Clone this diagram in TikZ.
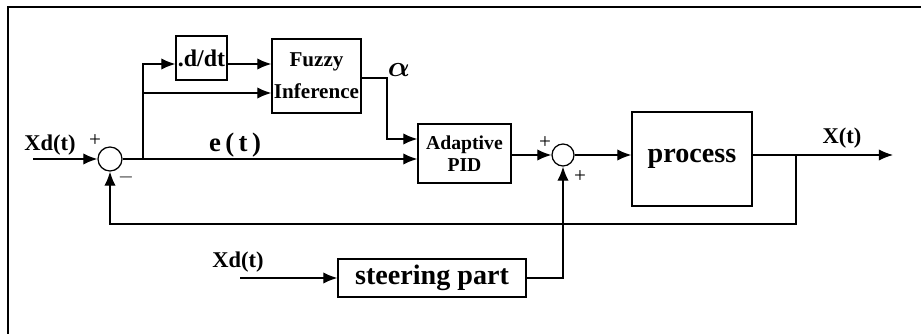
\documentclass[tikz,border=0pt]{standalone}
\usepackage{amsmath}
\usepackage{fontspec}
\setmainfont{Liberation Serif}
\usetikzlibrary{arrows.meta,positioning,calc}

\begin{document}
\begin{tikzpicture}[x=0.025cm, y=-0.025cm, >={Latex[length=10pt,width=8pt]}, line width=0.9pt,
  blk/.style={draw, inner sep=0pt, align=center},
  sumc/.style={draw, circle, inner sep=0pt, minimum size=0.6cm},
  lbl/.style={font=\bfseries\fontsize{16}{16}\selectfont, inner sep=0pt},
  sgn/.style={font=\fontsize{15}{15}\selectfont, inner sep=0pt}]

  \useasboundingbox (0,0) rectangle (921,334);
  % frame
  \draw (8,334) -- (8,7) -- (921,7);

  % Define blocks and summing points
  \node[sumc] (S1) at (110,159) {};
  \node[sumc, minimum size=0.55cm] (S2) at (563,155) {};
  \node[blk, minimum width=1.275cm, minimum height=1.1cm, font=\bfseries\fontsize{17}{17}\selectfont] (ddt) at (201.5,58) {.d/dt};
  \node[blk, minimum width=2.225cm, minimum height=1.85cm, font=\bfseries\fontsize{15}{23}\selectfont] (fuzzy) at (316.5,76) {Fuzzy\\Inference};
  \node[blk, minimum width=2.325cm, minimum height=1.475cm, font=\bfseries\fontsize{14}{16}\selectfont] (PID) at (464.5,153.5) {Adaptive\\PID};
  \node[blk, minimum width=3cm, minimum height=2.35cm, font=\bfseries\fontsize{20}{20}\selectfont] (process) at (692,159) {process};
  \node[blk, minimum width=4.7cm, minimum height=0.95cm, font=\bfseries\fontsize{20}{20}\selectfont] (steer) at (432,278) {steering part};

  % Labels
  \node[lbl] (xd1) at (50,145) {Xd(t)};
  \node[font=\bfseries\fontsize{19}{19}\selectfont, inner sep=0pt] (et) at (235,145) {e\,(\,t\,)};
  \node[font=\fontsize{22}{22}\selectfont, inner sep=0pt] (alpha) at (399,70) {$\boldsymbol{\alpha}$};
  \node[lbl] (xt) at (842,138) {X(t)};
  \node[lbl] (xd2) at (238,262) {Xd(t)};
  \node[sgn] (p1) at (95,141) {+};
  \node[sgn] (m1) at (126,177) {$-$};
  \node[sgn] (p2) at (545,143) {+};
  \node[sgn] (p3) at (580,177) {+};

  % Corner points of the connectors
  \coordinate (in1) at (33,159);
  \coordinate (br1) at (143,159);
  \coordinate (r1) at (143,64);
  \coordinate (r2) at (143,93);
  \coordinate (a1) at (387,78);
  \coordinate (a2) at (387,139);
  \coordinate (fb1) at (796,155);
  \coordinate (fb2) at (796,224);
  \coordinate (out) at (893,155);
  \coordinate (in2) at (240,278);

  % Draw arrows between nodes
  \draw[->] (in1) -- (S1.west);
  \draw[->] (S1.east) -- (S1 -| PID.west);
  \draw[->] (br1) -- (r1) -- (r1 -| ddt.west);
  \draw[->] (r1 -| ddt.east) -- (r1 -| fuzzy.west);
  \draw[->] (r1) -- (r2) -- (r2 -| fuzzy.west);
  \draw[->] (a1 -| fuzzy.east) -- (a1) -- (a2) -- (a2 -| PID.west);
  \draw[->] (S2 -| PID.east) -- (S2.west);
  \draw[->] (S2.east) -- (S2 -| process.west);
  \draw[->] (S2 -| process.east) -- (out);
  \draw[->] (fb1) -- (fb2) -| (S1.south);
  \draw[->] (in2) -- (steer.west);
  \draw[->] (steer.east) -| (S2.south);
\end{tikzpicture}
\end{document}
